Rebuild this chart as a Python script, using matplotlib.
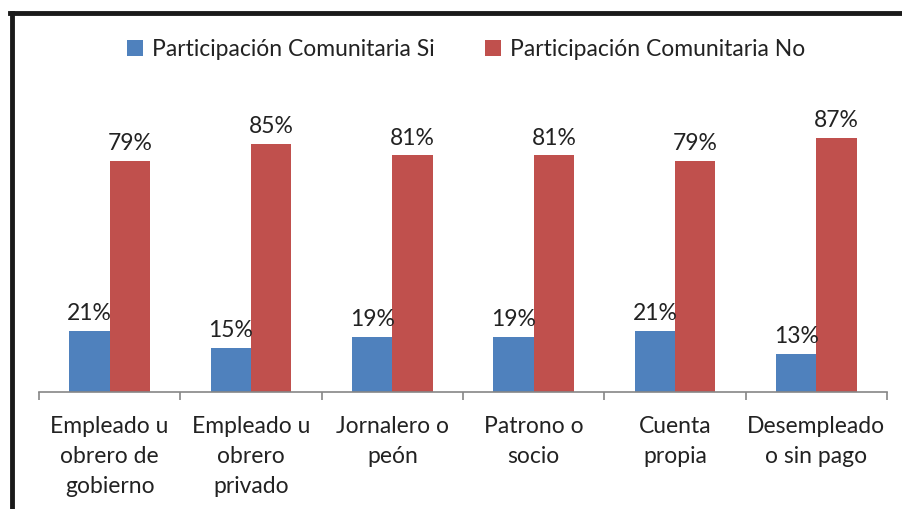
import numpy as np
import matplotlib.pyplot as plt
from matplotlib.lines import Line2D

plt.rcParams['font.family'] = ['Lato', 'DejaVu Sans']

categories = ['Empleado u\nobrero de\ngobierno', 'Empleado u\nobrero\nprivado',
              'Jornalero o\npeón', 'Patrono o\nsocio', 'Cuenta\npropia',
              'Desempleado\no sin pago']
si = [21, 15, 19, 19, 21, 13]
no = [79, 85, 81, 81, 79, 87]
series_names = ['Participación Comunitaria Si', 'Participación Comunitaria No']

blue = '#4F81BD'
red = '#C0504D'

fig = plt.figure(figsize=(9.03, 5.09), dpi=100)
ax = fig.add_axes([0.0432, 0.2299, 0.9391, 0.5736])

x = np.arange(len(categories))
w = 0.285
b1 = ax.bar(x - w / 2, si, w, color=blue, label=series_names[0])
b2 = ax.bar(x + w / 2, no, w, color=red, label=series_names[1])

for bars, vals in ((b1, si), (b2, no)):
    for rect, v in zip(bars, vals):
        ax.annotate(f'{v}%', (rect.get_x() + rect.get_width() / 2, rect.get_height()),
                    xytext=(0, 5), textcoords='offset points',
                    ha='center', va='bottom', fontsize=16.5, color='#222222')

ax.set_xlim(-0.5, len(categories) - 0.5)
ax.set_ylim(0, 100)
ax.set_yticks([])
for s in ('top', 'right', 'left'):
    ax.spines[s].set_visible(False)
ax.spines['bottom'].set_color('#868686')
ax.spines['bottom'].set_linewidth(1.2)

ax.set_xticks(x)
ax.set_xticklabels(categories, fontsize=16.5, color='#222222', linespacing=1.55)
ax.tick_params(axis='x', which='major', length=0, pad=17)
ax.set_xticks(np.arange(len(categories) + 1) - 0.5, minor=True)
ax.tick_params(axis='x', which='minor', length=6, width=1.2, color='#868686', direction='out')

fig.legend(handles=[b1, b2], loc='center', bbox_to_anchor=(0.516, 0.902), ncol=2,
           frameon=False, fontsize=16.5, handlelength=0.7, handleheight=0.7,
           handletextpad=0.4, columnspacing=2.2, labelcolor='#222222')

# chart frame (partially cut in the original)
fig.add_artist(Line2D([0.0135, 0.0135], [0, 0.974], color='#1a1a1a', lw=3.5, transform=fig.transFigure))
fig.add_artist(Line2D([0.0115, 1.0], [0.974, 0.974], color='#1a1a1a', lw=3.5, transform=fig.transFigure))

fig.savefig('out.png', dpi=100)
